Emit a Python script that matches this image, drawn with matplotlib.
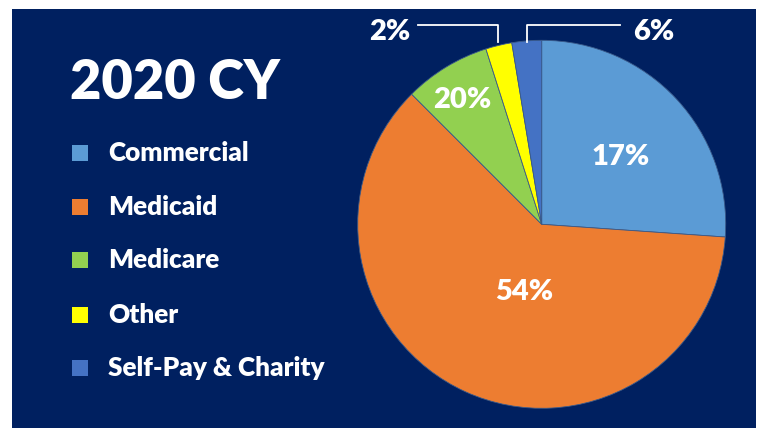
import numpy as np
import matplotlib.pyplot as plt
from matplotlib.patches import Rectangle

# slice shares as drawn, and the printed percentage labels
categories = ['Commercial', 'Medicaid', 'Medicare', 'Other', 'Self-Pay & Charity']
shares = [26.1, 61.4, 7.6, 2.3, 2.6]
pct_labels = ['17%', '54%', '20%', '2%', '6%']
colors = ['#5B9BD5', '#ED7D31', '#92D050', '#FFFF00', '#4472C4']
title = '2020 CY'

navy = '#002060'
font = 'Lato'
W, H = 762, 428

fig = plt.figure(figsize=(W/100, H/100), dpi=100, facecolor='white')
ax = fig.add_axes([0, 0, 1, 1])

# navy panel
ax.add_patch(Rectangle((12, 0), 744, H-9, facecolor=navy, edgecolor='none', zorder=0))

def y(v):
	# image row -> data y
	return H - v

wedges, _ = ax.pie(shares, colors=colors, startangle=90, counterclock=False,
	center=(541.7, y(224.3)), radius=184, frame=True,
	wedgeprops=dict(linewidth=0.6, edgecolor='#3a5a8a'))
ax.set_xlim(0, W)
ax.set_ylim(0, H)
ax.set_aspect('equal')
ax.axis('off')

wt = 'heavy'
# labels inside the slices
inside = {0: (621, 157), 1: (524, 292), 2: (462, 100)}
for i, (lx, ly) in inside.items():
	ax.text(lx, y(ly), pct_labels[i], color='white', fontsize=21, fontweight=wt,
		family=font, ha='center', va='center')

# outside labels with leader lines
ax.text(390, y(32), pct_labels[3], color='white', fontsize=21, fontweight=wt,
	family=font, ha='center', va='center')
ax.plot([418, 498, 498], [y(25), y(25), y(42)], color='white', lw=1.3)
ax.text(654, y(32), pct_labels[4], color='white', fontsize=21, fontweight=wt,
	family=font, ha='center', va='center')
ax.plot([527, 527, 620], [y(42), y(25), y(25)], color='white', lw=1.3)

# title
ax.text(70, y(83), title, color='white', fontsize=39, fontweight=wt,
	family=font, ha='left', va='center')

# legend
rows = [153, 207, 260, 315, 368]
for name, c, r in zip(categories, colors, rows):
	ax.add_patch(Rectangle((72, y(r) - 8), 16, 16, facecolor=c, edgecolor='none'))
	ax.text(108, y(r), name, color='white', fontsize=18.8, fontweight=wt,
		family=font, ha='left', va='center')

plt.savefig('out.png', dpi=100, facecolor='white')
